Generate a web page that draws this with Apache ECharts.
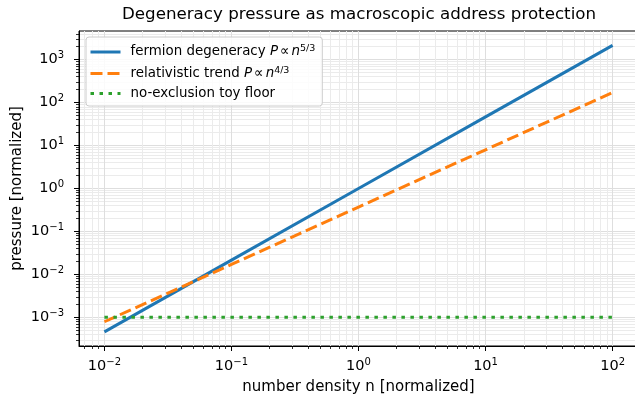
<!DOCTYPE html>
<html><head><meta charset="utf-8">
<script src="https://cdn.jsdelivr.net/npm/echarts@6/dist/echarts.min.js"></script>
<style>html,body{margin:0;padding:0;background:#fff}#c{width:635px;height:403px}</style>
</head><body><div id="c"></div>
<script>
// ---- data ----
const density = [0.01, 0.1, 1, 10, 100];
const fermionPressure = [4.6e-4, 0.0215, 1, 46.4, 2150];
const relativisticPressure = [7.9e-4, 0.0171, 0.37, 7.97, 172];
const floorPressure = [1e-3, 1e-3, 1e-3, 1e-3, 1e-3];
const seriesNames = ['fermion degeneracy', 'relativistic trend', 'no-exclusion toy floor'];
const seriesExponents = ['5/3', '4/3', null];
const xMajorTicks = [0.01, 0.1, 1, 10, 100];
const yMajorTicks = [1e-3, 1e-2, 1e-1, 1, 10, 100, 1000];

const xMin = Math.pow(10, -2.2), xMax = Math.pow(10, 2.2);
const yMin = Math.pow(10, -3.667), yMax = Math.pow(10, 3.667);

function minorTicks(lo, hi) {
  const out = [];
  for (let e = Math.floor(Math.log10(lo)); e <= Math.ceil(Math.log10(hi)); e++) {
    for (let m = 2; m <= 9; m++) {
      const v = +(m * Math.pow(10, e)).toPrecision(3);
      if (v >= lo && v <= hi) out.push(v);
    }
  }
  return out;
}
const xMinorTicks = minorTicks(xMin, xMax);
const yMinorTicks = minorTicks(yMin, yMax);

const FONT = 'DejaVu Sans';
function sciLabel(v) {
  const e = Math.round(Math.log10(v));
  return '{b|10}{s|' + (e < 0 ? '\u2212' + (-e) : e) + '}';
}
const labelRich = {
  b: { fontFamily: FONT, fontSize: 14.5, color: '#000', lineHeight: 18 },
  s: { fontFamily: FONT, fontSize: 10, color: '#000', lineHeight: 10, padding: [0, 0, 8, 0] }
};

function majorAxis(kind, lo, hi, ticks, name, nameGap, margin) {
  return {
    type: 'log', logBase: 10, min: lo, max: hi, gridIndex: 0,
    position: kind === 'x' ? 'bottom' : 'left',
    name: name, nameLocation: 'middle', nameGap: nameGap,
    nameMoveOverlap: kind === 'x',
    nameTextStyle: { fontFamily: FONT, fontSize: 15, color: '#000' },
    axisLine: { show: true, lineStyle: { color: '#000', width: 1 } },
    axisTick: { show: true, customValues: ticks, length: 5, lineStyle: { color: '#000', width: 1 } },
    axisLabel: { show: true, customValues: ticks, formatter: sciLabel, rich: labelRich, margin: margin },
    splitLine: { show: true, lineStyle: { color: '#dedede', width: 1 } },
    minorTick: { show: false }, minorSplitLine: { show: false }
  };
}
function minorAxis(kind, lo, hi, ticks) {
  return {
    type: 'log', logBase: 10, min: lo, max: hi, gridIndex: 0,
    position: kind === 'x' ? 'bottom' : 'left',
    axisLine: { show: false },
    axisTick: { show: true, customValues: ticks, length: 3, lineStyle: { color: '#000', width: 0.8 } },
    axisLabel: { show: false },
    splitLine: { show: true, lineStyle: { color: '#ebebeb', width: 1 } },
    z: 0
  };
}

function legendText(name) {
  const i = seriesNames.indexOf(name);
  const exp = seriesExponents[i];
  if (!exp) return '{g| }{t|' + name + '}';
  return '{g| }{t|' + name + ' }{i|P}{m|\u221D}{i|n}{s|' + exp + '}';
}

function pairs(ys) { return density.map((x, k) => [x, ys[k]]); }

const chart = echarts.init(document.getElementById('c'), null, { renderer: 'canvas' });
chart.setOption({
  animation: false,
  backgroundColor: '#fff',
  title: {
    text: 'Degeneracy pressure as macroscopic address protection',
    left: 359, top: 6.5, padding: 0, textAlign: 'center',
    textStyle: { fontFamily: FONT, fontSize: 16.7, fontWeight: 'normal', color: '#000' }
  },
  grid: { left: 79, right: -3, top: 31, bottom: 57, outerBoundsMode: 'none', containLabel: false,
          show: true, borderColor: '#000', borderWidth: 1, backgroundColor: 'transparent' },
  xAxis: [
    majorAxis('x', xMin, xMax, xMajorTicks, 'number density n [normalized]', 33, 11),
    minorAxis('x', xMin, xMax, xMinorTicks)
  ],
  yAxis: [
    majorAxis('y', yMin, yMax, yMajorTicks, 'pressure [normalized]', 54, 15),
    minorAxis('y', yMin, yMax, yMinorTicks)
  ],
  legend: {
    orient: 'vertical', left: 86, top: 37, padding: [7, 7, 6, 3],
    itemWidth: 30, itemHeight: 14, itemGap: 5.5,
    itemStyle: { opacity: 0 },
    lineStyle: { width: 3 },
    backgroundColor: 'rgba(255,255,255,0.85)', borderColor: '#cccccc', borderWidth: 1, borderRadius: 3,
    data: seriesNames, formatter: legendText,
    textStyle: {
      fontFamily: FONT, fontSize: 13.4, color: '#000',
      rich: {
        g: { width: 5, lineHeight: 15 },
        t: { fontFamily: FONT, fontSize: 13.4, color: '#000', lineHeight: 15 },
        m: { fontFamily: FONT, fontSize: 13.4, color: '#000', lineHeight: 15, padding: [0, 2, 0, 2] },
        i: { fontFamily: FONT, fontSize: 13.4, fontStyle: 'italic', color: '#000', lineHeight: 15 },
        s: { fontFamily: FONT, fontSize: 9.5, color: '#000', lineHeight: 9, padding: [0, 0, 6, 0] }
      }
    }
  },
  series: [
    { name: seriesNames[0], type: 'line', xAxisIndex: 0, yAxisIndex: 0, data: pairs(fermionPressure),
      symbol: 'none', showSymbol: false, lineStyle: { color: '#1f77b4', width: 3 }, itemStyle: { color: '#1f77b4', opacity: 0 } },
    { name: seriesNames[1], type: 'line', xAxisIndex: 0, yAxisIndex: 0, data: pairs(relativisticPressure),
      symbol: 'none', showSymbol: false, lineStyle: { color: '#ff7f0e', width: 3, type: [12, 5] }, itemStyle: { color: '#ff7f0e', opacity: 0 } },
    { name: seriesNames[2], type: 'line', xAxisIndex: 0, yAxisIndex: 0, data: pairs(floorPressure),
      symbol: 'none', showSymbol: false, lineStyle: { color: '#2ca02c', width: 3, type: [3.5, 5.5], cap: 'butt' }, itemStyle: { color: '#2ca02c', opacity: 0 } }
  ]
});
</script></body></html>
